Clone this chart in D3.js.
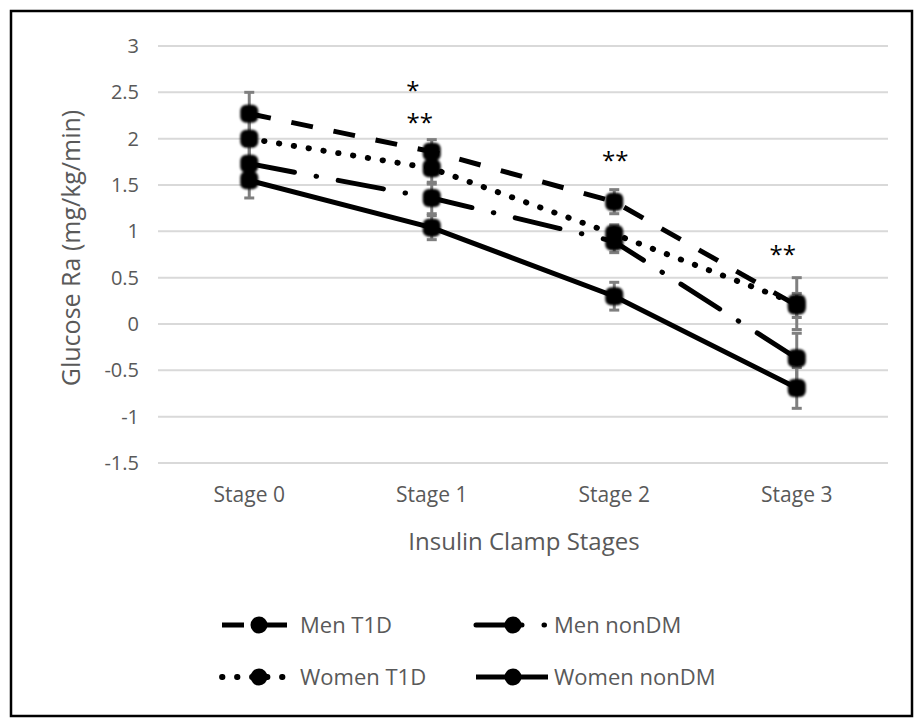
<!DOCTYPE html>
<html>
<head>
<meta charset="utf-8">
<script src="https://cdn.jsdelivr.net/npm/d3@7"></script>
<style>
  html, body { margin: 0; padding: 0; background: #fff; }
  svg text { font-family: "Open Sans", "Noto Sans", sans-serif; }
</style>
</head>
<body>
<svg id="chart" width="914" height="718"></svg>
<script>
// Glucose Ra across insulin clamp stages, by sex and diabetes status
const stages = ["Stage 0", "Stage 1", "Stage 2", "Stage 3"];
const yTicks = [-1.5, -1, -0.5, 0, 0.5, 1, 1.5, 2, 2.5, 3];

const seriesNames = ["Men T1D", "Men nonDM", "Women T1D", "Women nonDM"];
const menT1D      = [2.27, 1.86, 1.32, 0.20];
const menNonDM    = [1.73, 1.36, 0.89, -0.37];
const womenT1D    = [2.00, 1.68, 0.97, 0.22];
const womenNonDM  = [1.55, 1.04, 0.30, -0.69];

// error bar half-widths (SEM)
const menT1DErr     = [0.23, 0.13, 0.13, 0.13];
const menNonDMErr   = [0.20, 0.17, 0.12, 0.27];
const womenT1DErr   = [0.25, 0.17, 0.10, 0.28];
const womenNonDMErr = [0.19, 0.13, 0.15, 0.22];

// significance marks per stage
const sigStages = ["Stage 1", "Stage 1", "Stage 2", "Stage 3"];
const sigLabels = ["*", "**", "**", "**"];

const series = [
  { name: seriesNames[0], values: menT1D,     err: menT1DErr,     dash: "22,21", cap: "butt", w: 5 },
  { name: seriesNames[1], values: menNonDM,   err: menNonDMErr,   dash: "46,22,0.5,22", cap: "round", w: 5 },
  { name: seriesNames[2], values: womenT1D,   err: womenT1DErr,   dash: "0.5,14.5", cap: "round", w: 5.8 },
  { name: seriesNames[3], values: womenNonDM, err: womenNonDMErr, dash: null, cap: "butt", w: 5 }
];

const svg = d3.select("#chart");
const grey = "#595959";

// outer frame
svg.append("rect")
  .attr("x", 11).attr("y", 11).attr("width", 901).attr("height", 705)
  .attr("fill", "#fff").attr("stroke", "#000").attr("stroke-width", 2.5);

const plot = { left: 158, right: 888, top: 46, bottom: 463 };

const x = d3.scaleBand().domain(stages).range([plot.left, plot.right]);
const y = d3.scaleLinear().domain([-1.5, 3]).range([plot.bottom, plot.top]);
const cx = s => x(s) + x.bandwidth() / 2;

// gridlines
svg.append("g").selectAll("line").data(yTicks).join("line")
  .attr("x1", plot.left).attr("x2", plot.right)
  .attr("y1", d => y(d)).attr("y2", d => y(d))
  .attr("stroke", "#d9d9d9").attr("stroke-width", 2);

// y axis labels
const yAxis = svg.append("g")
  .attr("transform", `translate(${plot.left - 19},0)`)
  .call(d3.axisLeft(y).tickValues(yTicks).tickSize(0).tickPadding(0).tickFormat(d => String(d)));
yAxis.select(".domain").remove();
yAxis.selectAll("text")
  .attr("fill", grey).style("font-size", "20px")
  .style("font-family", "'Open Sans', sans-serif");

// x axis labels
const xAxis = svg.append("g")
  .attr("transform", `translate(0,${plot.bottom + 24})`)
  .call(d3.axisBottom(x).tickSize(0).tickPadding(0));
xAxis.select(".domain").remove();
xAxis.selectAll("text")
  .attr("fill", grey).style("font-size", "21px")
  .style("font-family", "'Open Sans', sans-serif");

// axis titles
svg.append("text")
  .attr("transform", `translate(80,248) rotate(-90)`)
  .attr("text-anchor", "middle").attr("fill", grey)
  .style("font-size", "25px")
  .text("Glucose Ra (mg/kg/min)");

svg.append("text")
  .attr("x", (plot.left + plot.right) / 2 + 1).attr("y", 550)
  .attr("text-anchor", "middle").attr("fill", grey)
  .style("font-size", "24px")
  .text("Insulin Clamp Stages");

// soft edge for markers
const defs = svg.append("defs");
defs.append("filter").attr("id", "soft")
  .attr("x", "-50%").attr("y", "-50%").attr("width", "200%").attr("height", "200%")
  .append("feGaussianBlur").attr("stdDeviation", 1);

const line = d3.line()
  .x((d, i) => cx(stages[i]))
  .y(d => y(d));

// series lines
svg.append("g").selectAll("path").data(series).join("path")
  .attr("d", s => line(s.values))
  .attr("fill", "none").attr("stroke", "#000")
  .attr("stroke-width", s => s.w)
  .attr("stroke-linecap", s => s.cap)
  .attr("stroke-dasharray", s => s.dash);

// error bars
const errData = series.flatMap(s => s.values.map((v, i) => ({ v, e: s.err[i], stage: stages[i] })));
const eg = svg.append("g").attr("stroke", "#7f7f7f").attr("stroke-width", 3);
eg.selectAll("line.v").data(errData).join("line").attr("class", "v")
  .attr("x1", d => cx(d.stage)).attr("x2", d => cx(d.stage))
  .attr("y1", d => y(d.v - d.e)).attr("y2", d => y(d.v + d.e));
eg.selectAll("line.t").data(errData).join("line").attr("class", "t")
  .attr("x1", d => cx(d.stage) - 5).attr("x2", d => cx(d.stage) + 5)
  .attr("y1", d => y(d.v + d.e)).attr("y2", d => y(d.v + d.e));
eg.selectAll("line.b").data(errData).join("line").attr("class", "b")
  .attr("x1", d => cx(d.stage) - 5).attr("x2", d => cx(d.stage) + 5)
  .attr("y1", d => y(d.v - d.e)).attr("y2", d => y(d.v - d.e));

// markers
svg.append("g").attr("filter", "url(#soft)")
  .selectAll("rect").data(series.flatMap(s => s.values.map((v, i) => ({ v, stage: stages[i] }))))
  .join("rect")
  .attr("x", d => cx(d.stage) - 9).attr("y", d => y(d.v) - 9)
  .attr("width", 18).attr("height", 18).attr("rx", 6)
  .attr("fill", "#000");

// significance asterisks, placed above the highest error bar of each stage
const sigShift = [[-19, -41], [-12, -9], [1, -21], [-14, -15]];
sigStages.forEach((st, k) => {
  const i = stages.indexOf(st);
  const top = d3.max(series, s => s.values[i] + s.err[i]);
  svg.append("text")
    .attr("x", cx(st) + sigShift[k][0])
    .attr("y", y(top) + sigShift[k][1])
    .attr("text-anchor", "middle").attr("fill", "#000")
    .style("font-size", "24px")
    .text(sigLabels[k]);
});

// legend
const legendItems = [
  { s: series[0], lx: 222, ly: 625 },
  { s: series[1], lx: 476, ly: 625 },
  { s: series[2], lx: 222, ly: 677 },
  { s: series[3], lx: 476, ly: 677 }
];
const lg = svg.append("g");
legendItems.forEach(it => {
  const g = lg.append("g").attr("transform", `translate(${it.lx},${it.ly})`);
  g.append("line").attr("x1", 0).attr("x2", 72).attr("y1", 0).attr("y2", 0)
    .attr("stroke", "#000").attr("stroke-width", it.s.w)
    .attr("stroke-linecap", it.s.cap)
    .attr("stroke-dasharray", it.s.dash);
  g.append("circle").attr("cx", 37).attr("cy", 0).attr("r", 8.5).attr("fill", "#000");
  g.append("text").attr("x", 78).attr("y", 0).attr("dy", "0.35em")
    .attr("fill", grey).style("font-size", "22px").text(it.s.name);
});
</script>
</body>
</html>
